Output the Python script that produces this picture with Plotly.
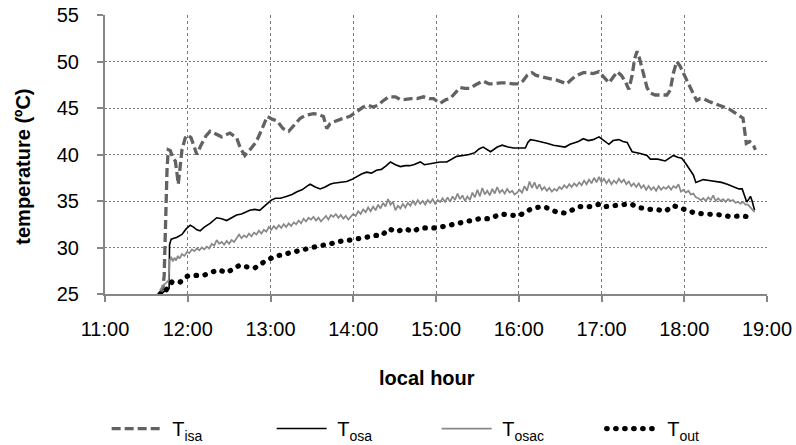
import plotly.graph_objects as go

# Time of day in decimal hours, temperatures in degrees Celsius
t_isa = [11.665, 11.70, 11.715, 11.725, 11.735, 11.75, 11.765, 11.79, 11.82, 11.85, 11.87, 11.885, 11.90, 11.93,
         11.97, 12.0, 12.04, 12.08, 12.11, 12.16, 12.22, 12.27, 12.33, 12.41, 12.46, 12.51, 12.56, 12.59, 12.64,
         12.69, 12.76, 12.83, 12.90, 12.96, 13.02, 13.08, 13.15, 13.22, 13.30, 13.36, 13.42, 13.52, 13.58, 13.64,
         13.66, 13.68, 13.72, 13.76, 13.85, 13.96, 14.04, 14.12, 14.18, 14.24, 14.30, 14.35, 14.43, 14.51, 14.57,
         14.61, 14.70, 14.77, 14.85, 14.92, 14.97, 15.05, 15.12, 15.17, 15.23, 15.29, 15.35, 15.41, 15.48, 15.57,
         15.64, 15.70, 15.78, 15.86, 15.93, 16.00, 16.05, 16.10, 16.16, 16.21, 16.26, 16.34, 16.40, 16.46, 16.52,
         16.58, 16.63, 16.68, 16.78, 16.84, 16.90, 16.97, 17.02, 17.09, 17.14, 17.19, 17.24, 17.29, 17.33, 17.37,
         17.40, 17.43, 17.46, 17.51, 17.55, 17.59, 17.65, 17.72, 17.79, 17.83, 17.87, 17.91, 17.95, 18.03, 18.09,
         18.15, 18.19, 18.23, 18.30, 18.38, 18.48, 18.54, 18.60, 18.66, 18.71, 18.73, 18.75, 18.79, 18.82, 18.84,
         18.86]
T_isa = [25.1, 25.6, 27.0, 31.0, 35.5, 38.5, 40.5, 40.4, 39.6, 39.3, 38.0, 36.8, 38.0, 40.5,
         41.8, 42.1, 41.8, 40.8, 40.0, 41.0, 42.0, 42.5, 42.2, 41.9, 42.1, 42.3, 42.0, 41.8, 40.6,
         39.9, 40.6, 41.4, 42.8, 44.1, 43.8, 43.6, 42.8, 42.5, 43.3, 43.9, 44.2, 44.4, 44.3, 44.1,
         43.4, 42.8, 43.3, 43.5, 43.8, 44.1, 44.6, 45.1, 45.3, 45.1, 45.3, 45.7, 46.2, 46.2, 45.9,
         45.9, 46.0, 46.0, 46.2, 46.0, 46.0, 45.5, 45.9, 46.0, 46.6, 47.2, 47.1, 47.1, 47.5, 47.9,
         47.6, 47.6, 47.7, 47.7, 47.6, 47.6, 47.9, 48.5, 48.8, 48.5, 48.4, 48.2, 48.1, 48.0, 47.8,
         47.6, 48.0, 48.4, 48.8, 48.8, 48.7, 48.9, 48.4, 47.7, 48.3, 48.9, 48.5, 47.8, 47.0, 48.5,
         50.3, 51.1, 50.3, 48.4, 47.2, 46.6, 46.4, 46.4, 46.4, 46.9, 48.8, 50.0, 49.5, 48.0, 46.8,
         45.8, 46.0, 46.0, 45.7, 45.4, 45.1, 44.9, 44.6, 44.2, 43.9, 42.5, 41.2, 41.4, 41.2, 40.9,
         40.5]

t_osa = [11.68, 11.72, 11.775, 11.78, 11.80, 11.83, 11.87, 11.93, 11.98, 12.03, 12.07, 12.11, 12.15, 12.20, 12.27,
         12.35, 12.41, 12.47, 12.53, 12.59, 12.65, 12.70, 12.75, 12.81, 12.87, 12.92, 12.96, 13.01, 13.06, 13.12,
         13.20, 13.26, 13.32, 13.38, 13.46, 13.48, 13.54, 13.60, 13.66, 13.72, 13.76, 13.84, 13.92, 13.98, 14.04,
         14.10, 14.16, 14.22, 14.28, 14.34, 14.40, 14.45, 14.51, 14.57, 14.63, 14.68, 14.73, 14.81, 14.86, 14.92,
         14.97, 15.05, 15.13, 15.20, 15.25, 15.33, 15.40, 15.47, 15.52, 15.57, 15.62, 15.66, 15.74, 15.80, 15.87,
         15.94, 16.02, 16.08, 16.11, 16.14, 16.20, 16.26, 16.34, 16.42, 16.50, 16.56, 16.62, 16.66, 16.72, 16.78,
         16.84, 16.90, 16.97, 17.03, 17.09, 17.14, 17.21, 17.26, 17.31, 17.34, 17.37, 17.47, 17.55, 17.59, 17.68,
         17.77, 17.82, 17.87, 17.92, 17.97, 18.02, 18.07, 18.11, 18.14, 18.19, 18.23, 18.30, 18.39, 18.45, 18.52,
         18.57, 18.62, 18.66, 18.70, 18.73, 18.755, 18.78, 18.80, 18.82, 18.85]
T_osa = [25.0, 25.3, 25.6, 30.3, 30.9, 31.0, 31.1, 31.4, 32.0, 32.4, 32.2, 31.9, 31.8, 32.2, 32.6,
         33.2, 33.1, 32.9, 33.2, 33.5, 33.6, 33.8, 34.0, 34.1, 34.0, 34.4, 34.7, 35.1, 35.3, 35.3,
         35.5, 35.7, 36.0, 36.2, 36.7, 36.8, 36.5, 36.3, 36.5, 36.8, 36.9, 37.0, 37.1, 37.3, 37.6,
         37.9, 38.1, 38.0, 38.3, 38.4, 38.8, 39.2, 38.9, 38.7, 38.8, 38.8, 38.9, 39.2, 38.9, 39.0,
         39.1, 39.2, 39.2, 39.5, 39.8, 39.9, 40.0, 40.2, 40.6, 40.8, 40.5, 40.3, 40.8, 41.0, 40.8,
         40.7, 40.7, 40.7, 41.3, 41.6, 41.5, 41.4, 41.2, 41.0, 40.9, 40.8, 41.1, 41.2, 41.4, 41.7,
         41.5, 41.6, 41.9, 41.5, 41.1, 41.5, 41.6, 41.4, 41.3, 40.8, 40.3, 40.1, 39.9, 39.5, 39.5,
         39.3, 39.6, 39.9, 39.7, 39.6, 39.0, 38.4, 37.8, 37.0, 37.2, 37.3, 37.2, 37.1, 37.0, 36.8,
         36.6, 36.4, 36.3, 36.3, 35.6, 34.9, 35.2, 35.5, 35.0, 34.0]

t_osac = [11.665, 11.70, 11.74, 11.77, 11.78, 11.80, 11.82, 11.84, 11.86, 11.88, 11.90, 11.93, 11.96, 11.99,
          12.02, 12.05, 12.08, 12.11, 12.14, 12.17, 12.20, 12.23, 12.26, 12.29, 12.32, 12.35, 12.38, 12.41,
          12.44, 12.47, 12.50, 12.53, 12.56, 12.59, 12.62, 12.65, 12.68, 12.71, 12.74, 12.77, 12.80, 12.83,
          12.86, 12.89, 12.92, 12.95, 12.98, 13.01, 13.04, 13.07, 13.10, 13.13, 13.16, 13.19, 13.22, 13.25,
          13.28, 13.31, 13.34, 13.37, 13.40, 13.43, 13.46, 13.49, 13.52, 13.55, 13.58, 13.61, 13.64, 13.67,
          13.70, 13.73, 13.76, 13.79, 13.82, 13.85, 13.88, 13.91, 13.94, 13.97, 14.00, 14.03, 14.06, 14.09,
          14.12, 14.15, 14.18, 14.21, 14.24, 14.27, 14.30, 14.33, 14.36, 14.39, 14.42, 14.45, 14.48, 14.51,
          14.54, 14.57, 14.60, 14.63, 14.66, 14.69, 14.72, 14.75, 14.78, 14.81, 14.84, 14.87, 14.90, 14.93,
          14.96, 14.99, 15.02, 15.05, 15.08, 15.11, 15.14, 15.17, 15.20, 15.23, 15.26, 15.29, 15.32, 15.35,
          15.38, 15.41, 15.44, 15.47, 15.50, 15.53, 15.56, 15.59, 15.62, 15.65, 15.68, 15.71, 15.74, 15.77,
          15.80, 15.83, 15.86, 15.89, 15.92, 15.95, 15.98, 16.01, 16.04, 16.07, 16.10, 16.13, 16.16, 16.19,
          16.22, 16.25, 16.28, 16.31, 16.34, 16.37, 16.40, 16.43, 16.46, 16.49, 16.52, 16.55, 16.58, 16.61,
          16.64, 16.67, 16.70, 16.73, 16.76, 16.79, 16.82, 16.85, 16.88, 16.91, 16.94, 16.97, 17.00, 17.03,
          17.06, 17.09, 17.12, 17.15, 17.18, 17.21, 17.24, 17.27, 17.30, 17.33, 17.36, 17.39, 17.42, 17.45,
          17.48, 17.51, 17.54, 17.57, 17.60, 17.63, 17.66, 17.69, 17.72, 17.75, 17.78, 17.81, 17.84, 17.87,
          17.90, 17.93, 17.96, 17.99, 18.02, 18.05, 18.08, 18.11, 18.14, 18.17, 18.20, 18.23, 18.26, 18.29,
          18.32, 18.35, 18.38, 18.41, 18.44, 18.47, 18.50, 18.53, 18.56, 18.59, 18.62, 18.65, 18.68, 18.71,
          18.74, 18.77, 18.80, 18.83, 18.85]
T_osac = [25.4, 25.9, 26.2, 26.5, 28.6, 29.0, 28.5, 28.9, 28.6, 29.1, 28.8, 29.3, 29.1, 29.5,
          29.4, 29.8, 29.6, 29.9, 29.7, 30.0, 29.8, 30.1, 29.9, 30.4, 30.2, 30.8, 30.4, 30.6,
          30.3, 30.7, 30.4, 30.8, 30.6, 31.0, 31.4, 31.0, 31.3, 31.1, 31.5, 31.2, 31.6, 31.4,
          31.8, 31.5, 31.9, 31.7, 32.2, 31.9, 32.3, 32.0, 32.4, 32.1, 32.5, 32.2, 32.6, 32.3,
          32.7, 32.5, 32.9, 32.6, 33.1, 32.8, 33.2, 33.0, 33.3, 32.9, 33.2, 32.8, 33.1, 33.4,
          33.0, 33.5, 33.3, 33.6, 33.2, 33.5, 33.1, 33.4, 33.0, 33.3, 33.6, 33.4, 33.9, 33.6,
          34.1, 33.8, 34.3, 33.9, 34.4, 34.0, 34.6, 34.2, 34.8, 34.4, 35.2, 34.6, 34.9, 34.0,
          34.5, 34.2, 34.7, 34.3, 34.8, 34.5, 35.0, 34.6, 35.1, 34.7, 35.0, 34.6, 35.1, 34.8,
          35.2, 34.7, 35.1, 34.9, 35.3, 34.9, 35.4, 34.9, 35.5, 35.1, 35.8, 35.2, 35.6, 35.0,
          35.5, 35.1, 35.9, 35.4, 36.2, 35.5, 36.4, 35.7, 36.1, 35.6, 36.3, 35.8, 36.5, 35.9,
          36.2, 35.8, 36.3, 35.9, 36.1, 35.7, 35.9, 36.2, 35.9, 36.6, 36.1, 37.1, 36.4, 37.0,
          36.3, 36.8, 36.2, 36.5, 36.1, 36.4, 36.0, 36.3, 36.1, 36.5, 36.3, 36.7, 36.4, 36.8,
          36.5, 36.9, 36.6, 37.0, 36.7, 37.2, 36.8, 37.3, 36.9, 37.5, 37.0, 37.6, 37.0, 37.4,
          36.9, 37.3, 36.8, 37.2, 36.9, 37.4, 37.0, 37.3, 36.8, 37.1, 36.6, 36.9, 36.5, 36.9,
          36.4, 36.7, 36.2, 36.6, 36.2, 36.5, 36.1, 36.6, 36.2, 36.5, 36.3, 36.6, 36.2, 36.6,
          36.4, 36.8, 36.0, 36.2, 35.9, 36.1, 35.7, 35.8, 35.4, 35.3, 35.1, 35.3, 35.0, 35.4,
          35.1, 35.6, 35.0, 35.3, 35.0, 35.2, 34.9, 35.2, 35.0, 35.1, 34.8, 34.9, 34.7, 34.9,
          34.6, 34.6, 34.3, 34.0, 33.8]

t_out = [11.665, 11.69, 11.72, 11.75, 11.78, 11.81, 11.86, 11.91, 11.99, 12.07, 12.19, 12.28, 12.37, 12.47,
         12.55, 12.63, 12.72, 12.81, 12.93, 13.04, 13.13, 13.22, 13.32, 13.42, 13.52, 13.60, 13.68, 13.76,
         13.86, 13.96, 14.06, 14.16, 14.26, 14.35, 14.40, 14.43, 14.49, 14.53, 14.58, 14.64, 14.71, 14.76,
         14.81, 14.91, 15.01, 15.11, 15.21, 15.31, 15.41, 15.53, 15.65, 15.72, 15.78, 15.88, 16.00, 16.08,
         16.16, 16.22, 16.29, 16.36, 16.46, 16.56, 16.66, 16.74, 16.86, 16.94, 16.99, 17.05, 17.12, 17.19,
         17.27, 17.35, 17.45, 17.57, 17.66, 17.77, 17.87, 17.97, 18.05, 18.13, 18.26, 18.36, 18.46, 18.56,
         18.68, 18.78]
T_out = [25.0, 24.9, 25.2, 25.6, 26.0, 26.3, 26.4, 26.3, 26.9, 27.0, 27.0, 27.3, 27.6, 27.3,
         27.7, 28.1, 27.9, 27.8, 28.5, 29.0, 29.2, 29.4, 29.7, 29.9, 30.1, 30.2, 30.3, 30.5,
         30.7, 30.8, 30.9, 31.1, 31.3, 31.3, 31.8, 32.0, 31.8, 31.7, 31.9, 32.0, 31.7, 31.9,
         32.1, 32.1, 32.1, 32.3, 32.5, 32.7, 32.9, 33.1, 33.1, 33.3, 33.6, 33.5, 33.4, 33.8,
         34.2, 34.3, 34.4, 34.2, 33.8, 33.7, 34.1, 34.4, 34.4, 34.5, 34.7, 34.4, 34.5, 34.6,
         34.6, 34.7, 34.3, 34.1, 34.1, 33.9, 34.5, 34.2, 33.9, 33.7, 33.6, 33.6, 33.5, 33.3,
         33.4, 33.3]

hour_ticks = [11, 12, 13, 14, 15, 16, 17, 18, 19]
hour_labels = ["11:00", "12:00", "13:00", "14:00", "15:00", "16:00", "17:00", "18:00", "19:00"]
temp_ticks = [25, 30, 35, 40, 45, 50, 55]

FONT = "Liberation Sans, Arial, sans-serif"
AXIS_GREY = "#868686"
GRID_GREY = "#7a7a7a"
DOT_DASH = "0.5px,8.5px"
NBSP = "\u00a0"

fig = go.Figure()
fig.add_trace(go.Scatter(x=t_isa, y=T_isa, mode="lines", name=NBSP + "T<sub>isa</sub>",
                         line=dict(color="#626262", width=3.3, dash="9px,4px")))
fig.add_trace(go.Scatter(x=t_osa, y=T_osa, mode="lines", name=NBSP + "T<sub>osa</sub>",
                         line=dict(color="#000000", width=1.6)))
fig.add_trace(go.Scatter(x=t_osac, y=T_osac, mode="lines", name=NBSP + "T<sub>osac</sub>",
                         line=dict(color="#888888", width=1.7)))
fig.add_trace(go.Scatter(x=t_out, y=T_out, mode="lines", name=NBSP + "T<sub>out</sub>",
                         line=dict(color="#000000", width=5.2, dash=DOT_DASH)))

fig.update_layout(
    width=796, height=445,
    margin=dict(l=105, r=29, t=15, b=151, autoexpand=False),
    paper_bgcolor="white", plot_bgcolor="white",
    font=dict(family=FONT, size=20, color="#000000"),
    xaxis=dict(range=[11, 19], tickvals=hour_ticks, ticktext=hour_labels,
               showline=True, linecolor=AXIS_GREY, linewidth=2,
               ticks="outside", ticklen=6, tickcolor=AXIS_GREY, tickwidth=1.5,
               showgrid=True, gridcolor=GRID_GREY, gridwidth=1, griddash="dot",
               zeroline=False, ticklabelstandoff=10, automargin=False,
               tickfont=dict(size=20)),
    yaxis=dict(range=[25, 55], tickvals=temp_ticks,
               showline=True, linecolor=AXIS_GREY, linewidth=2,
               ticks="outside", ticklen=6, tickcolor=AXIS_GREY, tickwidth=1.5,
               showgrid=True, gridcolor=GRID_GREY, gridwidth=1, griddash="2px,2px",
               zeroline=False, ticklabelstandoff=14, automargin=False,
               tickfont=dict(size=20)),
    showlegend=True,
    legend=dict(orientation="h", xref="container", yref="container",
                x=0.134, xanchor="left", y=0.037, yanchor="middle",
                entrywidth=100, entrywidthmode="pixels", itemwidth=50,
                font=dict(size=20), bgcolor="rgba(0,0,0,0)", traceorder="normal"),
    annotations=[
        dict(text="<b>temperature (ºC)</b>", xref="paper", yref="paper",
             x=-0.124, y=0.456, xanchor="center", yanchor="middle",
             textangle=-90, showarrow=False, font=dict(size=20)),
        dict(text="<b>local hour</b>", xref="paper", yref="paper",
             x=0.486, y=-0.302, xanchor="center", yanchor="middle",
             showarrow=False, font=dict(size=20)),
    ],
)

# Round caps turn the short dashes of the T_out line into dots
round_caps = """
(function(){
  var gd = document.getElementById('{plot_id}');
  function roundDots(){
    gd.querySelectorAll('path.js-line').forEach(function(p){
      var d = p.style.strokeDasharray || '';
      if (d.indexOf('0.5px') === 0) { p.style.strokeLinecap = 'round'; }
    });
  }
  roundDots();
  setTimeout(roundDots, 200);
  if (gd.on) { gd.on('plotly_afterplot', roundDots); }
})();
"""

fig.write_html("out.html", post_script=round_caps)
